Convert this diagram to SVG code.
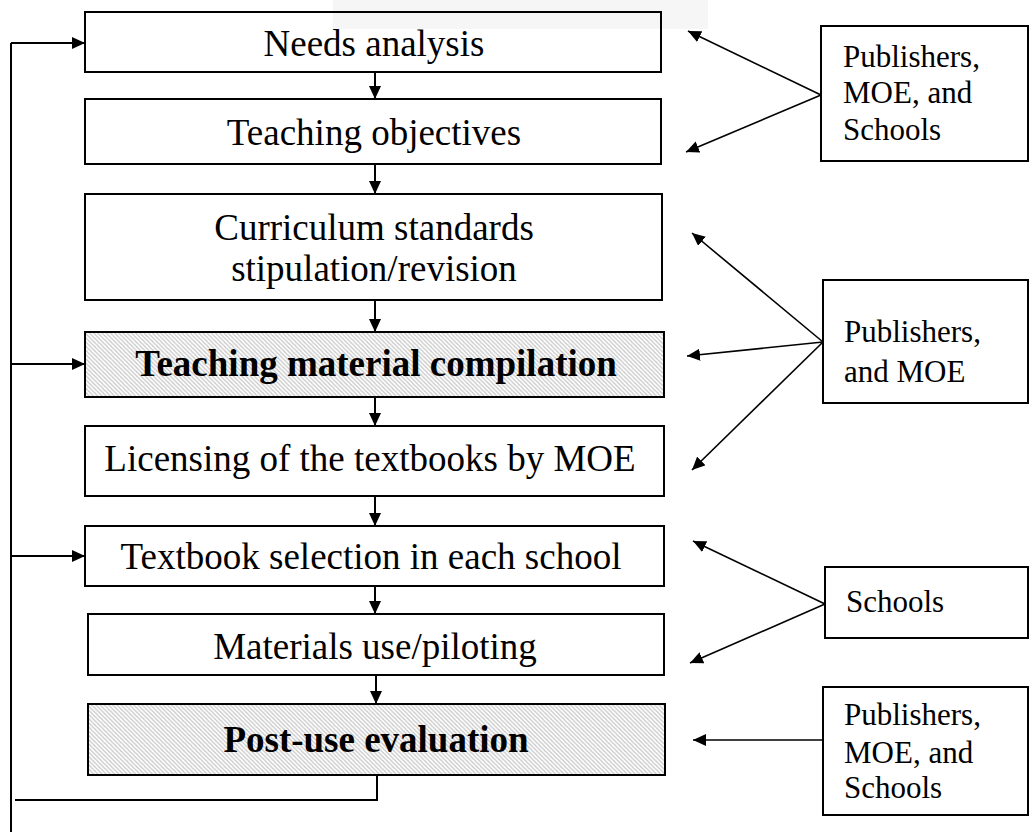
<svg xmlns="http://www.w3.org/2000/svg" width="1031" height="832" viewBox="0 0 1031 832">
<defs>
<style>
.box{fill:#fff;stroke:#000;stroke-width:2}
.hatch{fill:url(#hatch);stroke:#000;stroke-width:2}
.t{font-family:"Liberation Serif","Times New Roman",serif;font-size:37px;fill:#000;text-anchor:middle}
.tb{font-family:"Liberation Serif","Times New Roman",serif;font-size:37px;font-weight:bold;fill:#000;text-anchor:middle}
.s{font-family:"Liberation Serif","Times New Roman",serif;font-size:31px;fill:#000}
.c{fill:none;stroke:#000;stroke-width:2}
.d{fill:none;stroke:#000;stroke-width:1.6;marker-end:url(#ah)}
.a{fill:none;stroke:#000;stroke-width:2;marker-end:url(#ah)}
</style>
<marker id="ah" markerUnits="userSpaceOnUse" markerWidth="14" markerHeight="12" refX="13" refY="6" orient="auto">
<path d="M0,0 L13,6 L0,12 z" fill="#000"/>
</marker>
<pattern id="hatch" patternUnits="userSpaceOnUse" width="4.2" height="4.2">
<rect width="4.2" height="4.2" fill="#fff"/>
<path d="M-1,-1 L5.2,5.2 M3.2,-1 L5.2,1 M-1,3.2 L1,5.2" stroke="#c8c8c8" stroke-width="1.3"/>
</pattern>
</defs>
<rect x="0" y="0" width="1031" height="832" fill="#fff"/>
<rect x="333" y="0" width="375" height="29" fill="#f6f6f6"/>

<g id="needs-analysis">
<rect x="85" y="12" width="576" height="60" fill="none" stroke="#000" stroke-width="2"/>
<text class="t" x="374" y="56">Needs analysis</text>
</g>
<g id="teaching-objectives">
<rect class="box" x="85" y="99" width="576" height="65"/>
<text class="t" x="374" y="145">Teaching objectives</text>
</g>
<g id="curriculum-standards">
<rect class="box" x="85" y="194" width="577" height="106"/>
<text class="t" x="374" y="240">Curriculum standards</text>
<text class="t" x="374" y="281">stipulation/revision</text>
</g>
<g id="teaching-material-compilation">
<rect class="hatch" x="85" y="332" width="579" height="65"/>
<text class="tb" x="376" y="376">Teaching material compilation</text>
</g>
<g id="licensing">
<rect class="box" x="85" y="426" width="579" height="70"/>
<text class="t" x="370" y="471">Licensing of the textbooks by MOE</text>
</g>
<g id="textbook-selection">
<rect class="box" x="85" y="526" width="579" height="60"/>
<text class="t" x="371" y="569">Textbook selection in each school</text>
</g>
<g id="materials-use">
<rect class="box" x="88" y="614" width="576" height="61"/>
<text class="t" x="375" y="659">Materials use/piloting</text>
</g>
<g id="post-use-evaluation">
<rect class="hatch" x="88" y="704" width="577" height="71"/>
<text class="tb" x="376" y="752">Post-use evaluation</text>
</g>

<g id="stakeholders-1">
<rect class="box" x="821" y="26" width="207" height="135"/>
<text class="s" x="843" y="67">Publishers,</text>
<text class="s" x="843" y="103">MOE, and</text>
<text class="s" x="843" y="140">Schools</text>
</g>
<g id="stakeholders-2">
<rect class="box" x="823" y="280" width="205" height="123"/>
<text class="s" x="844" y="342">Publishers,</text>
<text class="s" x="844" y="382">and MOE</text>
</g>
<g id="stakeholders-3">
<rect class="box" x="825" y="567" width="203" height="71"/>
<text class="s" x="846" y="612">Schools</text>
</g>
<g id="stakeholders-4">
<rect class="box" x="823" y="687" width="205" height="128"/>
<text class="s" x="844" y="725">Publishers,</text>
<text class="s" x="844" y="763">MOE, and</text>
<text class="s" x="844" y="798">Schools</text>
</g>

<g id="connectors">
<path class="a" d="M375,72 V99"/>
<path class="a" d="M375,164 V194"/>
<path class="a" d="M375,300 V332"/>
<path class="a" d="M375,397 V426"/>
<path class="a" d="M375,496 V526"/>
<path class="a" d="M375,586 V614"/>
<path class="a" d="M376,675 V704"/>
<path class="c" d="M377,775 V800 H15"/>
<path class="c" d="M11,43 V832"/>
<path class="a" d="M11,43 H85"/>
<path class="a" d="M11,364 H85"/>
<path class="a" d="M11,556 H85"/>
<path class="d" d="M821,95 L688,31"/>
<path class="d" d="M821,95 L686,152"/>
<path class="d" d="M823,342 L692,233"/>
<path class="d" d="M823,342 L687,356"/>
<path class="d" d="M823,342 L692,470"/>
<path class="d" d="M825,604 L693,541"/>
<path class="d" d="M825,604 L690,663"/>
<path class="d" d="M823,740 L693,740"/>
</g>
</svg>
